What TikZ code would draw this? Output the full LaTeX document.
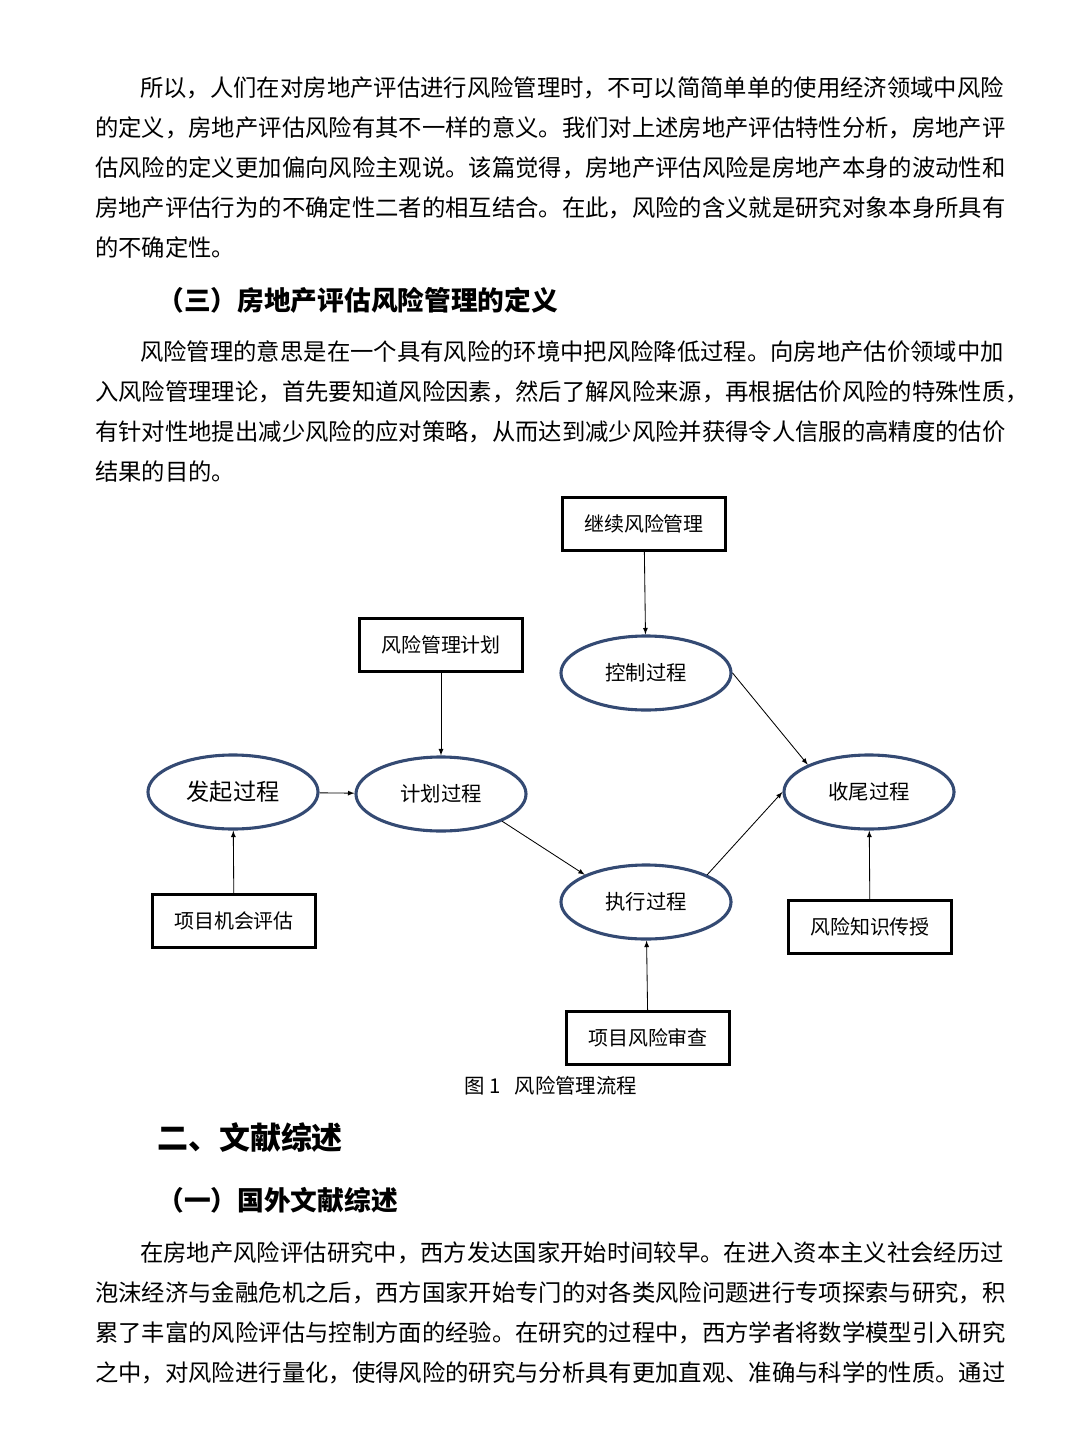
\documentclass[tikz,border=0pt]{standalone}
\usepackage{fontspec}
\newfontfamily\cjk{Noto Sans CJK SC}
\usetikzlibrary{shapes.geometric}
\definecolor{procblue}{RGB}{52,74,115}
\tikzset{
	proc/.style={ellipse,draw=procblue,line width=2.2pt,minimum width=4.25cm,minimum height=1.85cm,font=\cjk\fontsize{14.5}{16}\selectfont},
	bx/.style={draw,line width=2.2pt,minimum width=4.07cm,minimum height=1.32cm,font=\cjk\fontsize{14.2}{16}\selectfont},
	txt/.style={anchor=west,inner sep=0pt,font=\cjk\fontsize{16.6}{18}\selectfont},
	hd/.style={anchor=west,inner sep=0pt,font=\cjk\bfseries\fontsize{19}{21}\selectfont},
	arr/.style={-latex,line width=0.6pt}
}
\begin{document}
\begin{tikzpicture}[x=0.025cm,y=-0.025cm]
\useasboundingbox (0,0) rectangle (1080,1440);
		% text above the figure
		\node[txt] (p1) at (140,88) {所以，人们在对房地产评估进行风险管理时，不可以简简单单的使用经济领域中风险};
		\node[txt] (p2) at (95,128) {的定义，房地产评估风险有其不一样的意义。我们对上述房地产评估特性分析，房地产评};
		\node[txt] (p3) at (95,168) {估风险的定义更加偏向风险主观说。该篇觉得，房地产评估风险是房地产本身的波动性和};
		\node[txt] (p4) at (95,208) {房地产评估行为的不确定性二者的相互结合。在此，风险的含义就是研究对象本身所具有};
		\node[txt] (p5) at (95,248) {的不确定性。};
		\node[hd] (h1) at (157,300) {（三）房地产评估风险管理的定义};
		\node[txt] (q1) at (140,352) {风险管理的意思是在一个具有风险的环境中把风险降低过程。向房地产估价领域中加};
		\node[txt] (q2) at (95,392) {入风险管理理论，首先要知道风险因素，然后了解风险来源，再根据估价风险的特殊性质，};
		\node[txt] (q3) at (95,432) {有针对性地提出减少风险的应对策略，从而达到减少风险并获得令人信服的高精度的估价};
		\node[txt] (q4) at (95,472) {结果的目的。};
		% figure
		\node[bx] (jx) at (644,524) {继续风险管理};
		\node[proc] (kz) at (646,673) {控制过程};
		\node[bx] (jh) at (441,645) {风险管理计划};
		\node[proc] (jhp) at (441,794) {计划过程};
		\node[proc,font=\cjk\fontsize{16.5}{18}\selectfont] (fq) at (233,792) {发起过程};
		\node[proc] (sw) at (869,792) {收尾过程};
		\node[proc] (zx) at (646,902) {执行过程};
		\node[bx] (jhpg) at (234,921) {项目机会评估};
		\node[bx] (zs) at (870,927) {风险知识传授};
		\node[bx] (sc) at (648,1038) {项目风险审查};
		\draw[arr] (jx) -- (kz);
		\draw[arr] (kz.east) -- (sw.north west);
		\draw[arr] (jh) -- (jhp);
		\draw[arr] (fq) -- (jhp);
		\draw[arr] (jhp.south east) -- (zx.north west);
		\draw[arr] (zx.north east) -- (sw.west);
		\draw[arr] (jhpg) -- (fq);
		\draw[arr] (zs) -- (sw);
		\draw[arr] (sc) -- (zx);
		\node[inner sep=0pt,font=\cjk\fontsize{14.5}{16}\selectfont] (cap) at (551,1086) {图 1\ \ \ 风险管理流程};
		% text below the figure
		\node[hd,font=\cjk\bfseries\fontsize{22}{24}\selectfont] (h2) at (157,1138) {二、文献综述};
		\node[hd] (h3) at (157,1200) {（一）国外文献综述};
		\node[txt] (r1) at (140,1253) {在房地产风险评估研究中，西方发达国家开始时间较早。在进入资本主义社会经历过};
		\node[txt] (r2) at (95,1293) {泡沫经济与金融危机之后，西方国家开始专门的对各类风险问题进行专项探索与研究，积};
		\node[txt] (r3) at (95,1333) {累了丰富的风险评估与控制方面的经验。在研究的过程中，西方学者将数学模型引入研究};
		\node[txt] (r4) at (95,1373) {之中，对风险进行量化，使得风险的研究与分析具有更加直观、准确与科学的性质。通过};
\end{tikzpicture}
\end{document}
